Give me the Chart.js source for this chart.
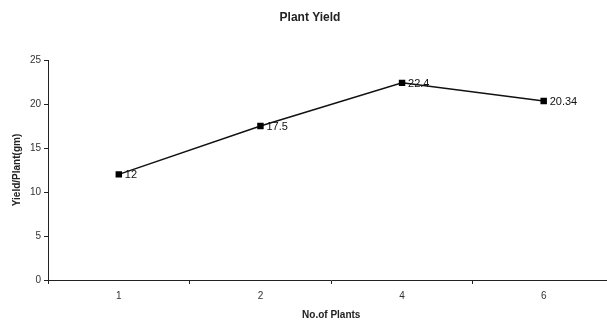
<!DOCTYPE html>
<html>
<head>
<meta charset="utf-8">
<script src="https://cdn.jsdelivr.net/npm/chart.js@4"></script>
<style>
  html, body { margin: 0; padding: 0; background: #fff; overflow: hidden; }
  #wrap { width: 620px; height: 321px; }
</style>
</head>
<body>
<div id="wrap"><canvas id="yieldChart" width="620" height="321"></canvas></div>
<script>
const plantCounts = ["1", "2", "4", "6"];
const yieldPerPlant = [12, 17.5, 22.4, 20.34];
const yTicks = [0, 5, 10, 15, 20, 25];

// draws value next to each point, like the original
const valueLabels = {
    id: "valueLabels",
    afterDatasetsDraw(chart) {
        const ctx = chart.ctx;
        const meta = chart.getDatasetMeta(0);
        ctx.save();
        ctx.font = "11px 'Liberation Sans', Arial, sans-serif";
        ctx.fillStyle = "#111";
        ctx.textBaseline = "middle";
        meta.data.forEach((pt, i) => {
            ctx.fillText(String(yieldPerPlant[i]), pt.x + 6, pt.y + 1);
        });
        ctx.restore();
    }
};

const ctx = document.getElementById("yieldChart").getContext("2d");
new Chart(ctx, {
    type: "line",
    data: {
        labels: plantCounts,
        datasets: [{
            data: yieldPerPlant,
            borderColor: "#111",
            borderWidth: 1.5,
            pointStyle: "rect",
            pointRadius: 3.5,
            pointBackgroundColor: "#000",
            pointBorderColor: "#000",
            fill: false,
            tension: 0
        }]
    },
    options: {
        responsive: false,
        animation: false,
        layout: { padding: { left: 0, right: 0, bottom: 0, top: 0 } },
        plugins: {
            legend: { display: false },
            tooltip: { enabled: false },
            title: {
                display: true,
                text: "Plant Yield",
                color: "#222",
                font: { family: "'Liberation Sans', Arial, sans-serif", size: 12, weight: "bold" },
                padding: { top: 10, bottom: 35.6 }
            }
        },
        scales: {
            x: {
                offset: true,
                border: { color: "#222", width: 1 },
                grid: { display: true, offset: true, drawOnChartArea: false, drawTicks: true, tickLength: 4, color: "#222" },
                ticks: {
                    color: "#333",
                    padding: 6,
                    font: { family: "'Liberation Sans', Arial, sans-serif", size: 10 }
                },
                title: {
                    display: true,
                    text: "No.of Plants",
                    color: "#222",
                    font: { family: "'Liberation Sans', Arial, sans-serif", size: 10, weight: "bold" },
                    padding: { top: 4, bottom: 0 }
                },
                afterFit(scale) { scale.height = 41; }
            },
            y: {
                min: 0,
                max: 25,
                border: { color: "#222", width: 1 },
                grid: { display: true, drawOnChartArea: false, drawTicks: true, tickLength: 4, color: "#222" },
                afterBuildTicks(scale) { scale.ticks = yTicks.map(v => ({ value: v })); },
                ticks: {
                    color: "#333",
                    padding: 3,
                    font: { family: "'Liberation Sans', Arial, sans-serif", size: 10 }
                },
                title: {
                    display: true,
                    text: "Yield/Plant(gm)",
                    color: "#222",
                    font: { family: "'Liberation Sans', Arial, sans-serif", size: 10, weight: "bold" },
                    padding: { top: 11, bottom: 4 }
                },
                afterFit(scale) { scale.width = 48; }
            }
        }
    },
    plugins: [valueLabels]
});
</script>
</body>
</html>
